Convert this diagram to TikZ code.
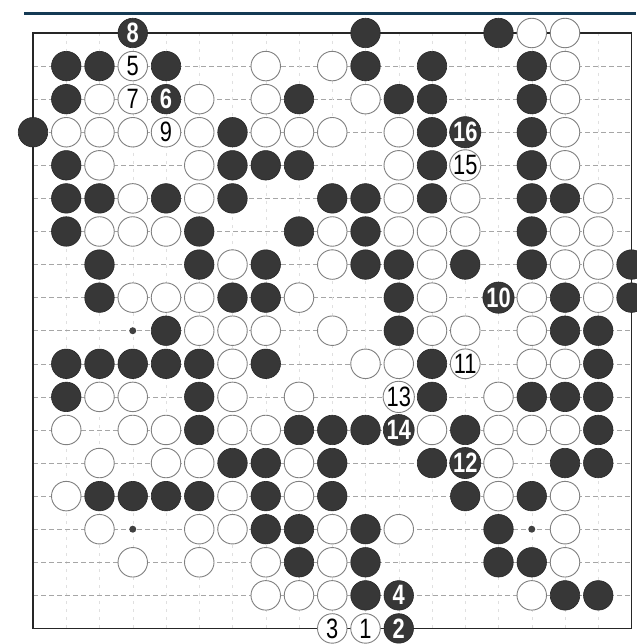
\documentclass[tikz,border=0pt]{standalone}
\usepackage{fontspec}
\newfontfamily\numfont[FakeStretch=0.78]{Liberation Sans}
\definecolor{navyline}{RGB}{20,58,84}
\definecolor{stoneblack}{RGB}{55,55,55}
\tikzset{
  hgrid/.style={black!35, line width=0.6pt, dash pattern=on 5pt off 3pt},
  vgrid/.style={black!12, line width=0.5pt, dash pattern=on 3pt off 5pt},
  border/.style={black!85, line width=1.8pt},
  bstone/.style={circle, fill=stoneblack, draw=black!85, line width=0.6pt, minimum size=29.5pt, inner sep=0pt, text=white, font=\numfont\bfseries\fontsize{28}{28}\selectfont},
  wstone/.style={circle, fill=white, draw=black!50, line width=0.9pt, minimum size=29.5pt, inner sep=0pt, text=black, font=\numfont\fontsize{28}{28}\selectfont},
  hoshi/.style={circle, fill=black!75, inner sep=0pt, minimum size=7pt}
}
\begin{document}
\begin{tikzpicture}[x=1pt,y=-1pt]
\useasboundingbox (0,0) rectangle (636,644);
\fill[white] (0,0) rectangle (636,644);
\draw[navyline, line width=2.7pt] (24,13.5) -- (636,13.5);
\begin{scope}[shift={(33,33)},x=33.25pt,y=-33.08pt]
  \foreach \i in {1,...,17} {
    \draw[vgrid] (\i,0) -- (\i,18);
    \draw[hgrid] (0,\i) -- (18,\i);
  }
  \draw[border] (0,0) rectangle (18,18);
  \foreach \c/\r in {3/9,3/15,15/15}
    \node[hoshi] (h\c-\r) at (\c,\r) {};
  \foreach \c/\r in {10/0,14/0,
    1/1,2/1,4/1,10/1,12/1,15/1,
    1/2,8/2,11/2,12/2,15/2,
    0/3,6/3,12/3,15/3,
    1/4,6/4,7/4,8/4,12/4,15/4,
    1/5,2/5,4/5,6/5,9/5,10/5,12/5,15/5,16/5,
    1/6,5/6,8/6,10/6,15/6,
    2/7,5/7,7/7,10/7,11/7,13/7,15/7,18/7,
    2/8,6/8,7/8,11/8,16/8,18/8,
    4/9,11/9,16/9,17/9,
    1/10,2/10,3/10,4/10,5/10,7/10,12/10,17/10,
    1/11,5/11,12/11,15/11,16/11,17/11,
    5/12,8/12,9/12,10/12,13/12,17/12,
    6/13,7/13,9/13,12/13,16/13,17/13,
    2/14,3/14,4/14,5/14,7/14,9/14,13/14,15/14,
    7/15,8/15,10/15,14/15,
    8/16,10/16,14/16,15/16,
    10/17,16/17,17/17}
    \node[bstone] (b\c-\r) at (\c,\r) {};
  \foreach \c/\r in {15/0,16/0,
    7/1,9/1,16/1,
    2/2,5/2,7/2,10/2,16/2,
    1/3,2/3,3/3,5/3,7/3,8/3,9/3,11/3,16/3,
    2/4,5/4,11/4,16/4,
    3/5,5/5,11/5,13/5,17/5,
    2/6,3/6,4/6,9/6,11/6,12/6,13/6,16/6,17/6,
    6/7,9/7,12/7,16/7,17/7,
    3/8,4/8,5/8,8/8,12/8,15/8,17/8,
    5/9,6/9,7/9,9/9,12/9,13/9,15/9,
    6/10,10/10,11/10,15/10,16/10,
    2/11,3/11,6/11,8/11,14/11,
    1/12,3/12,4/12,6/12,7/12,12/12,14/12,15/12,16/12,
    2/13,4/13,5/13,8/13,14/13,
    1/14,6/14,8/14,14/14,16/14,
    2/15,5/15,6/15,9/15,11/15,16/15,
    3/16,5/16,7/16,9/16,16/16,
    7/17,8/17,9/17,15/17}
    \node[wstone] (w\c-\r) at (\c,\r) {};
  \foreach \c/\r/\n in {3/0/8,4/2/6,13/3/16,14/8/10,11/12/14,13/13/12,11/17/4,11/18/2}
    \node[bstone] (m\n) at (\c,\r) {\n};
  \foreach \c/\r/\n in {3/1/5,3/2/7,4/3/9,13/4/15,13/10/11,11/11/13,9/18/3,10/18/1}
    \node[wstone] (m\n) at (\c,\r) {\n};
\end{scope}
\end{tikzpicture}
\end{document}
